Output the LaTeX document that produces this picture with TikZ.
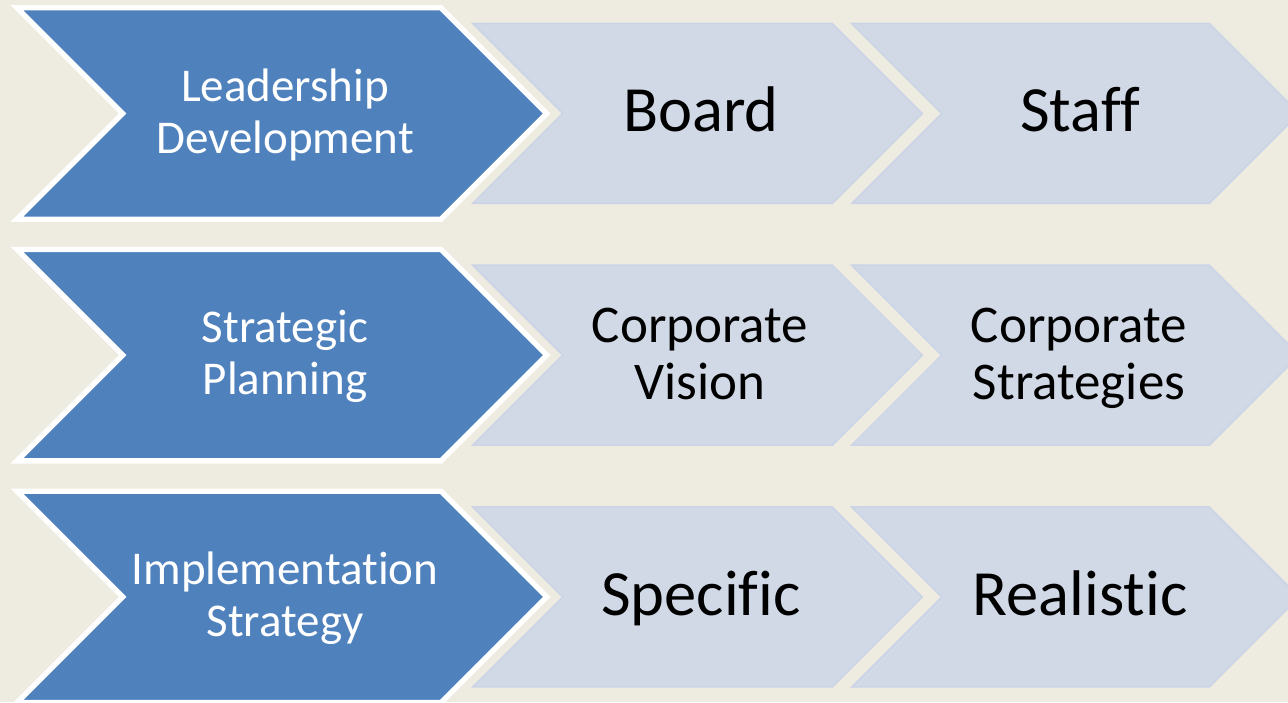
\documentclass[tikz,border=0pt]{standalone}
\usepackage{fontspec}
\setmainfont[Ligatures={NoCommon,NoRare,NoContextual}]{Carlito}
\definecolor{bg}{HTML}{EEECE1}
\definecolor{dkblue}{HTML}{4F81BD}
\definecolor{ltblue}{HTML}{D1D9E6}
\definecolor{ltedge}{HTML}{CBD4E7}
\newcommand\chevpath[4]{(#1,#3+#4) -- (#2,#3+#4) -- (#2+#4,#3) -- (#2,#3-#4) -- (#1,#3-#4) -- (#1+#4,#3) -- cycle}
\tikzset{
  darkchev/.style={fill=dkblue, draw=white, line width=5.3pt, line join=miter, miter limit=10},
  lightchev/.style={fill=ltblue, draw=ltedge, line width=1.5pt, line join=miter, miter limit=10},
  darktext/.style={text=white, font=\fontsize{47}{52}\selectfont, align=center, inner sep=0pt},
  lighttext/.style={text=black, font=\fontsize{64.5}{78}\selectfont, inner sep=0pt, anchor=base},
  lighttwo/.style={text=black, font=\fontsize{53}{57}\selectfont, align=center, inner sep=0pt}
}
\begin{document}
\begin{tikzpicture}[x=1pt,y=1pt]
  \fill[bg] (0,0) rectangle (1288,702);
  \useasboundingbox (0,0) rectangle (1288,702);
  \clip (0,0) rectangle (1288,702);
  % rows: centres 588.5, 346.8, 105.1
  \foreach \c in {588.5,346.8,105.1}{
    \path[lightchev] \chevpath{851.7}{1209.3}{\c}{90};
    \path[lightchev] \chevpath{472.7}{832.3}{\c}{90};
    \path[darkchev] \chevpath{17}{441}{\c}{105.7};
  }
  % row 1
  \node[darktext] (ld) at (285,587.5) {Leadership\\Development};
  \node[lighttext] (board) at (701,570) {Board};
  \node[lighttext] (staff) at (1080,570) {Staff};
  % row 2
  \node[darktext] (sp) at (285,345.8) {Strategic\\Planning};
  \node[lighttwo] (cv) at (700,348.5) {Corporate\\Vision};
  \node[lighttwo] (cs) at (1079,343.2) {Corporate\\Strategies};
  % row 3
  \node[darktext] (is) at (285,104.1) {Implementation\\Strategy};
  \node[lighttext] (spec) at (701,87) {Specific};
  \node[lighttext] (real) at (1080,87) {Realistic};
\end{tikzpicture}
\end{document}
